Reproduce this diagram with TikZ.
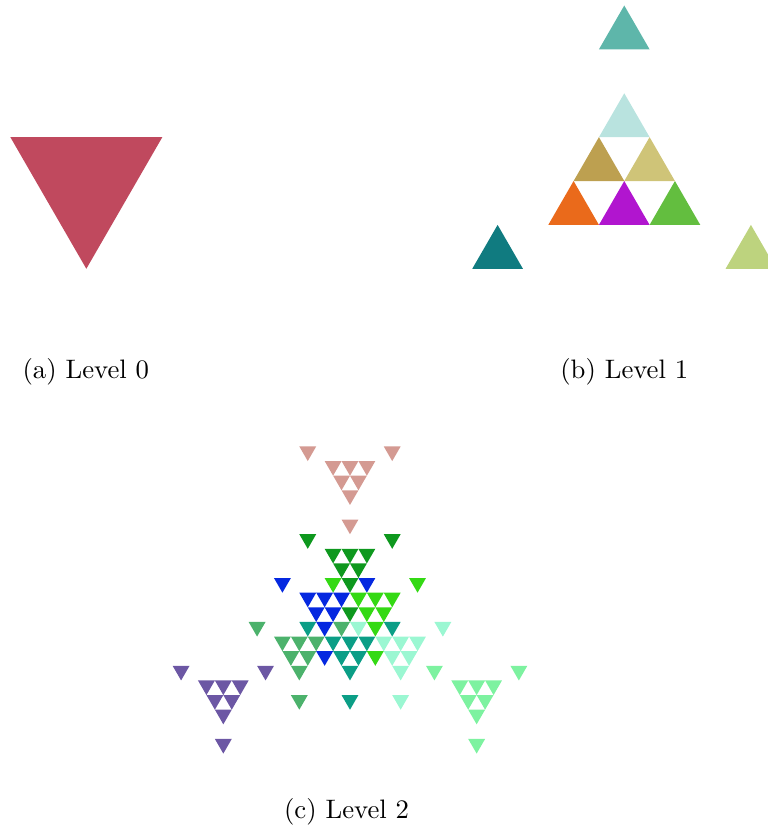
\documentclass[tikz,border=0pt]{standalone}
\usepackage{amssymb}
\usepackage{mathtools}

% level 0
\definecolor{lzero}{HTML}{C0495E}
% level 1
\definecolor{lonetop}{HTML}{B9E3DF}
\definecolor{lonemidl}{HTML}{BDA050}
\definecolor{lonemidr}{HTML}{CFC478}
\definecolor{lonebotl}{HTML}{EA6A1B}
\definecolor{lonebotm}{HTML}{B115CF}
\definecolor{lonebotr}{HTML}{63BE3F}
\definecolor{loneout}{HTML}{5EB6AA}
\definecolor{loneoutl}{HTML}{107B80}
\definecolor{loneoutr}{HTML}{BDD37E}
% level 2
\definecolor{ltwotop}{HTML}{0E981E}
\definecolor{ltwomidl}{HTML}{0528E0}
\definecolor{ltwomidr}{HTML}{34D914}
\definecolor{ltwobotl}{HTML}{4CB26C}
\definecolor{ltwobotm}{HTML}{0B9E86}
\definecolor{ltwobotr}{HTML}{9BF7D2}
\definecolor{ltwoout}{HTML}{D49A92}
\definecolor{ltwooutl}{HTML}{6C57A4}
\definecolor{ltwooutr}{HTML}{7DF2A0}

% filled triangle: centroid x, centroid y, side, rotation, colour
\newcommand{\trifill}[5]{\fill[#5, shift={({#1},{#2})}, rotate=#4] (90:{#3/sqrt(3)}) -- (210:{#3/sqrt(3)}) -- (330:{#3/sqrt(3)}) -- cycle;}

% children of a triangle, in units of the child side
\def\kidsup{0/1.1547, -0.5/0.2887, 0.5/0.2887, -1/-0.5774, 0/-0.5774, 1/-0.5774, 0/2.8868, -2.5/-1.4434, 2.5/-1.4434}

\begin{document}
\begin{tikzpicture}
            \useasboundingbox (0,0) rectangle (10.105,10.908);
            % level 0
            \trifill{1.136}{8.526}{2}{180}{lzero}
            % level 1
            \foreach \px/\py/\col in {0/1.1547/lonetop, -0.5/0.2887/lonemidl, 0.5/0.2887/lonemidr,
                -1/-0.5774/lonebotl, 0/-0.5774/lonebotm, 1/-0.5774/lonebotr,
                0/2.8868/loneout, -2.5/-1.4434/loneoutl, 2.5/-1.4434/loneoutr}{
                \trifill{8.214+(\px)*2/3}{8.526+(\py)*2/3}{2/3}{0}{\col}
            }
            % level 2
            \foreach \gx/\gy/\col in {0/1.1547/ltwotop, -0.5/0.2887/ltwomidl, 0.5/0.2887/ltwomidr,
                -1/-0.5774/ltwobotl, 0/-0.5774/ltwobotm, 1/-0.5774/ltwobotr,
                0/2.8868/ltwoout, -2.5/-1.4434/ltwooutl, 2.5/-1.4434/ltwooutr}{
                \foreach \px/\py in \kidsup{
                    \trifill{4.605+(\gx)*2/3-(\px)*2/9}{2.724+(\gy)*2/3-(\py)*2/9}{2/9}{180}{\col}
                }
            }
            % captions
            \node[anchor=base] (capa) at (1.129, 5.930) {(a) Level 0};
            \node[anchor=base] (capb) at (8.214, 5.930) {(b) Level 1};
            \node[anchor=base] (capc) at (4.56, 0.141) {(c) Level 2};
        \end{tikzpicture}
\end{document}
